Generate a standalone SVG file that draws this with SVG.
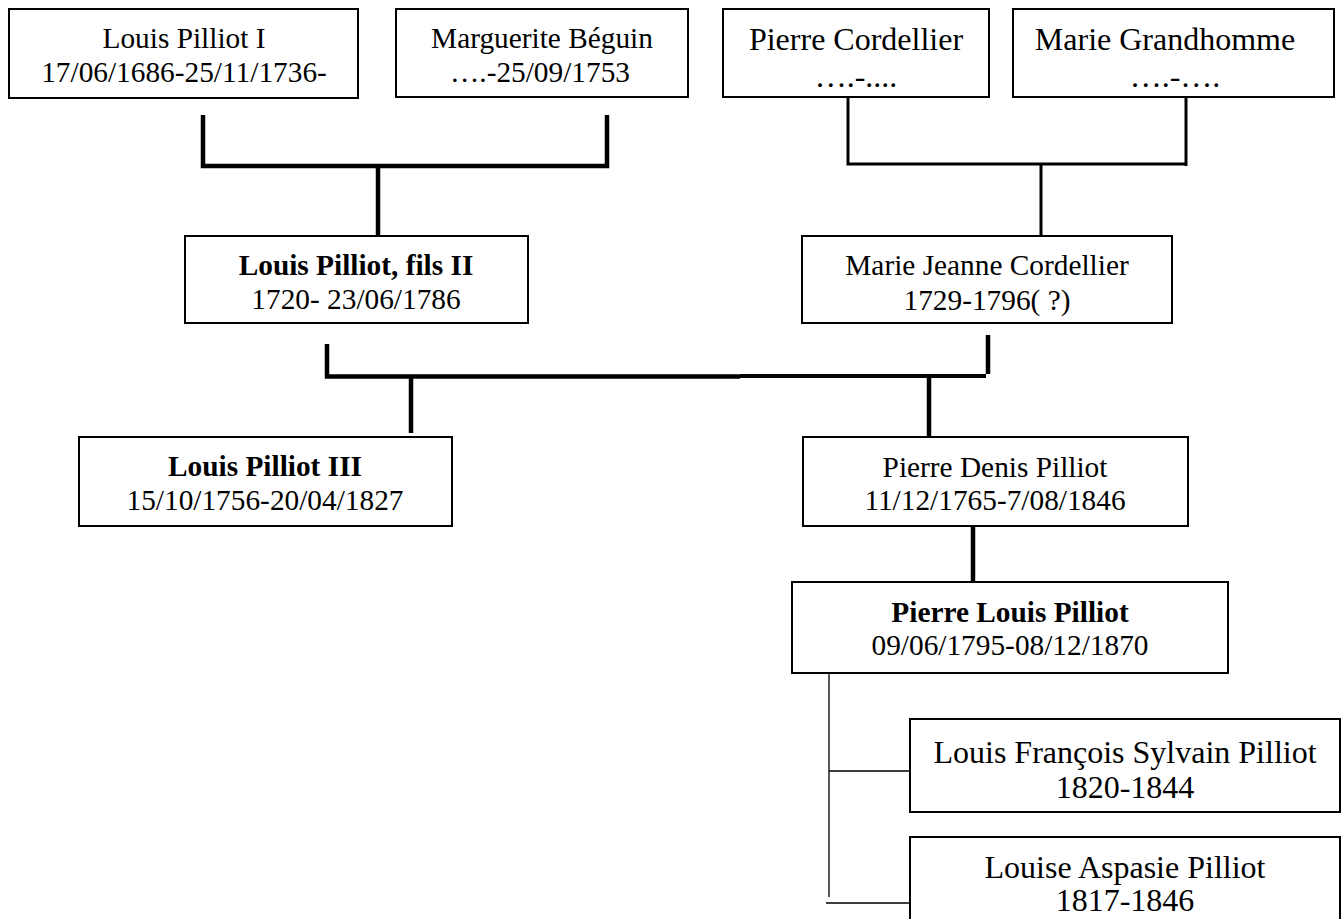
<svg xmlns="http://www.w3.org/2000/svg" width="1344" height="919" viewBox="0 0 1344 919">
<style>
.box{fill:#fff;stroke:#000;stroke-width:2}
text{font-family:"Liberation Serif","Times New Roman",serif;font-size:29.33px;fill:#000;text-anchor:middle}
.b{font-weight:bold}
.l{font-size:32px}
.thick{stroke:#000;stroke-width:4.5;fill:none}
.mid{stroke:#000;stroke-width:3;fill:none}
.thin{stroke:#000;stroke-width:1.3;fill:none}
</style>
<rect width="1344" height="919" fill="#fff"/>
<g id="connectors">
  <path class="thick" d="M203 115 V166 H607 V115"/>
  <path class="thick" d="M378 166 V236"/>
  <path class="mid" d="M848 97 V164 H1187 M1186 97 V166"/>
  <path class="mid" d="M1041 165 V236"/>
  <path class="thick" d="M327 344 V376.5 H740"/>
  <path class="mid" d="M740 376 H986" style="stroke-width:4"/>
  <path class="thick" d="M988 335 V374"/>
  <path class="thick" d="M411 377 V433"/>
  <path class="thick" d="M929 377 V437"/>
  <path class="thick" d="M973 526 V582"/>
  <path class="thin" d="M829 673 V897 M829 771 H910 M826 903 H910"/>
</g>
<g id="n1"><rect class="box" x="9" y="9" width="349" height="89"/><text x="184" y="48">Louis Pilliot I</text><text x="184" y="82">17/06/1686-25/11/1736-</text></g>
<g id="n2"><rect class="box" x="396" y="9" width="292" height="88"/><text x="542" y="48">Marguerite Béguin</text><text x="540" y="82">….-25/09/1753</text></g>
<g id="n3"><rect class="box" x="723" y="9" width="266" height="88"/><text class="l" x="856" y="50">Pierre Cordellier</text><text class="l" x="856" y="87">….-....</text></g>
<g id="n4"><rect class="box" x="1013" y="9" width="321" height="88"/><text class="l" x="1165" y="50">Marie Grandhomme</text><text class="l" x="1175" y="87">….-….</text></g>
<g id="n5"><rect class="box" x="185" y="236" width="343" height="87"/><text class="b" x="356" y="275">Louis Pilliot, fils II</text><text x="356" y="309">1720- 23/06/1786</text></g>
<g id="n6"><rect class="box" x="802" y="236" width="370" height="87"/><text x="987" y="275">Marie Jeanne Cordellier</text><text x="987" y="310">1729-1796( ?)</text></g>
<g id="n7"><rect class="box" x="79" y="437" width="373" height="89"/><text class="b" x="265" y="476">Louis Pilliot III</text><text x="265" y="510">15/10/1756-20/04/1827</text></g>
<g id="n8"><rect class="box" x="803" y="437" width="385" height="89"/><text x="995" y="477">Pierre Denis Pilliot</text><text x="995" y="510">11/12/1765-7/08/1846</text></g>
<g id="n9"><rect class="box" x="792" y="582" width="436" height="91"/><text class="b" x="1010" y="622">Pierre Louis Pilliot</text><text x="1010" y="655">09/06/1795-08/12/1870</text></g>
<g id="n10"><rect class="box" x="910" y="719" width="430" height="93"/><text class="l" x="1125" y="763">Louis François Sylvain Pilliot</text><text class="l" x="1125" y="798">1820-1844</text></g>
<g id="n11"><rect class="box" x="910" y="837" width="430" height="92"/><text class="l" x="1125" y="878">Louise Aspasie Pilliot</text><text class="l" x="1125" y="911">1817-1846</text></g>
</svg>
